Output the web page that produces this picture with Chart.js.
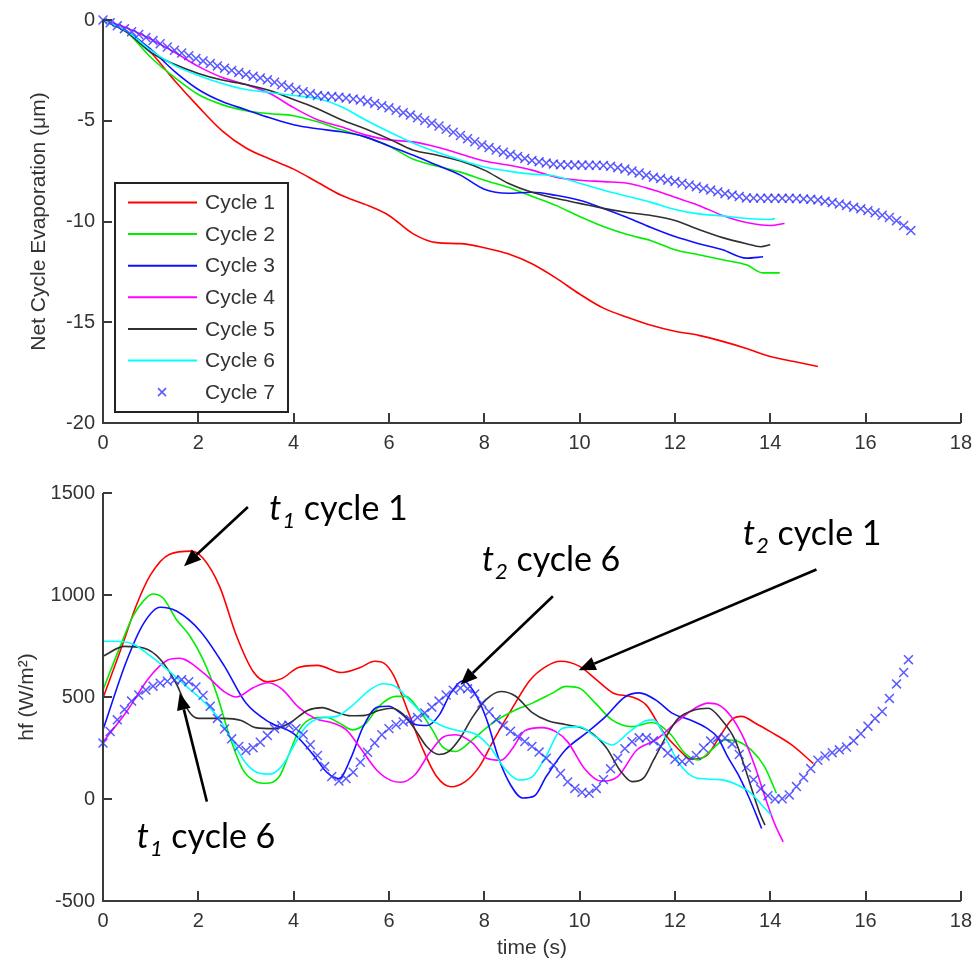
<!DOCTYPE html>
<html>
<head>
<meta charset="utf-8">
<script src="https://cdn.jsdelivr.net/npm/chart.js@4/dist/chart.umd.min.js"></script>
<style>
  body { margin: 0; background: #fff; }
  canvas { position: absolute; left: 0; }
  #evap { top: 0; }
  #flux { top: 470px; }
</style>
</head>
<body>
<canvas id="evap" width="980" height="470"></canvas>
<canvas id="flux" width="980" height="493"></canvas>
<script>
// ---- top panel: net cycle evaporation (um) ----
const cycleNames = ["Cycle 1", "Cycle 2", "Cycle 3", "Cycle 4", "Cycle 5", "Cycle 6", "Cycle 7"];
const cycleColors = ["#ff0000", "#00ee00", "#1010ff", "#ff00ff", "#303030", "#00ffff", "rgba(50,50,255,0.8)"];

const evapT1 = [0,0.5,1,1.5,2,2.5,3,3.5,4,4.5,5,5.5,6,6.5,7,7.5,8,8.5,9,9.5,10,10.5,11,11.5,12,12.5,13,13.5,14,14.5,15];
const evap1 = [0,-0.6,-1.6,-3.0,-4.3,-5.5,-6.35,-6.9,-7.4,-8.05,-8.7,-9.15,-9.7,-10.6,-11.05,-11.1,-11.3,-11.6,-12.1,-12.8,-13.6,-14.3,-14.75,-15.15,-15.45,-15.65,-15.95,-16.3,-16.7,-16.95,-17.2];

const evapT2 = [0,0.5,1,1.5,2,2.5,3,3.5,4,4.5,5,5.5,6,6.5,7,7.5,8,8.5,9,9.5,10,10.5,11,11.5,12,12.5,13,13.5,13.85,14.2];
const evap2 = [0,-0.6,-1.85,-2.85,-3.7,-4.2,-4.5,-4.65,-4.75,-5.05,-5.45,-5.8,-6.25,-6.9,-7.25,-7.55,-7.95,-8.3,-8.75,-9.2,-9.75,-10.25,-10.65,-10.95,-11.4,-11.65,-11.9,-12.15,-12.55,-12.55];

const evapT3 = [0,0.5,1,1.5,2,2.5,3,3.5,4,4.5,5,5.5,6,6.5,7,7.5,8,8.5,9,9.5,10,10.5,11,11.5,12,12.5,13,13.5,13.85];
const evap3 = [0,-0.55,-1.45,-2.55,-3.45,-4.05,-4.45,-4.85,-5.2,-5.4,-5.55,-5.8,-6.25,-6.7,-7.2,-7.7,-8.4,-8.6,-8.55,-8.7,-8.95,-9.35,-9.8,-10.3,-10.75,-11.1,-11.4,-11.82,-11.75];

const evapT4 = [0,0.5,1,1.5,2,2.5,3,3.5,4,4.5,5,5.5,6,6.5,7,7.5,8,8.5,9,9.5,10,10.5,11,11.5,12,12.5,13,13.5,14,14.3];
const evap4 = [0,-0.4,-0.95,-1.6,-2.3,-2.85,-3.2,-3.65,-4.35,-4.95,-5.3,-5.7,-5.95,-6.05,-6.3,-6.65,-7.0,-7.2,-7.45,-7.8,-7.95,-8.02,-8.1,-8.4,-8.8,-9.2,-9.7,-10.05,-10.2,-10.1];

const evapT5 = [0,0.5,1,1.5,2,2.5,3,3.5,4,4.5,5,5.5,6,6.5,7,7.5,8,8.5,9,9.5,10,10.5,11,11.5,12,12.5,13,13.5,13.8,14];
const evap5 = [0,-0.6,-1.6,-2.2,-2.65,-2.98,-3.2,-3.5,-3.95,-4.4,-4.95,-5.4,-5.9,-6.45,-6.7,-7.0,-7.45,-8.1,-8.55,-8.85,-9.1,-9.35,-9.55,-9.7,-9.95,-10.4,-10.8,-11.1,-11.25,-11.15];

const evapT6 = [0,0.5,1,1.5,2,2.5,3,3.5,4,4.5,5,5.5,6,6.5,7,7.5,8,8.5,9,9.5,10,10.5,11,11.5,12,12.5,13,13.5,14,14.1];
const evap6 = [0,-0.55,-1.5,-2.25,-2.75,-3.15,-3.45,-3.6,-3.75,-3.9,-4.3,-4.95,-5.55,-6.1,-6.55,-6.95,-7.3,-7.5,-7.65,-7.75,-8.1,-8.45,-8.75,-9.05,-9.4,-9.62,-9.72,-9.85,-9.9,-9.85];

const evapT7 = [0,0.15,0.3,0.45,0.6,0.75,0.9,1.05,1.2,1.35,1.5,1.65,1.8,1.95,2.1,2.25,2.4,2.55,2.7,2.85,3,3.15,3.3,3.45,3.6,3.75,3.9,4.05,4.2,4.35,4.5,4.65,4.8,4.95,5.1,5.25,5.4,5.55,5.7,5.85,6,6.15,6.3,6.45,6.6,6.75,6.9,7.05,7.2,7.35,7.5,7.65,7.8,7.95,8.1,8.25,8.4,8.55,8.7,8.85,9,9.15,9.3,9.45,9.6,9.75,9.9,10.05,10.2,10.35,10.5,10.65,10.8,10.95,11.1,11.25,11.4,11.55,11.7,11.85,12,12.15,12.3,12.45,12.6,12.75,12.9,13.05,13.2,13.35,13.5,13.65,13.8,13.95,14.1,14.25,14.4,14.55,14.7,14.85,15,15.15,15.3,15.45,15.6,15.75,15.9,16.05,16.2,16.35,16.5,16.65,16.8,16.95];
const evap7 = [0,-0.14,-0.29,-0.43,-0.58,-0.72,-0.87,-1.02,-1.18,-1.34,-1.5,-1.64,-1.77,-1.91,-2.03,-2.16,-2.28,-2.39,-2.5,-2.6,-2.7,-2.79,-2.88,-2.97,-3.09,-3.22,-3.34,-3.46,-3.56,-3.66,-3.75,-3.78,-3.8,-3.83,-3.87,-3.92,-3.97,-4.04,-4.14,-4.25,-4.36,-4.48,-4.6,-4.72,-4.85,-4.99,-5.12,-5.26,-5.42,-5.57,-5.73,-5.89,-6.04,-6.2,-6.33,-6.45,-6.56,-6.67,-6.77,-6.87,-6.97,-7.04,-7.1,-7.15,-7.18,-7.19,-7.2,-7.2,-7.21,-7.21,-7.22,-7.26,-7.33,-7.4,-7.49,-7.59,-7.7,-7.8,-7.87,-7.95,-8.02,-8.1,-8.19,-8.27,-8.36,-8.44,-8.53,-8.62,-8.69,-8.76,-8.83,-8.84,-8.84,-8.85,-8.85,-8.85,-8.85,-8.86,-8.88,-8.9,-8.93,-9.0,-9.06,-9.13,-9.21,-9.29,-9.37,-9.46,-9.57,-9.69,-9.8,-9.96,-10.2,-10.45];

// ---- bottom panel: heat flux hf (W/m2) ----
const fluxT1 = [0,0.4,0.7,1.0,1.4,1.85,2.1,2.45,2.8,3.15,3.45,3.75,4.1,4.5,5.0,5.4,5.7,5.9,6.1,6.4,6.7,7.0,7.3,7.6,7.9,8.2,8.6,8.95,9.3,9.6,10.0,10.35,10.7,11.1,11.4,11.75,12.05,12.35,12.65,12.95,13.2,13.4,13.7,14.0,14.45,14.9];
const flux1 = [495,750,950,1100,1200,1215,1180,1040,800,625,575,590,645,655,620,645,675,665,605,430,250,110,60,85,160,290,450,580,650,675,650,585,520,500,460,330,250,195,210,310,390,405,370,330,265,175];

const fluxT2 = [0,0.36,0.63,0.91,1.05,1.26,1.54,1.82,2.1,2.38,2.66,2.94,3.21,3.42,3.7,3.91,4.12,4.4,4.68,4.96,5.24,5.52,5.79,6.14,6.35,6.63,6.91,7.12,7.4,7.75,8.17,8.59,9.01,9.43,9.71,9.99,10.33,10.68,11.1,11.52,11.9,12.21,12.49,12.77,13.05,13.33,13.6,13.88,14.13];
const flux2 = [535,748,896,986,1005,985,880,800,683,519,306,142,85,77,110,224,339,396,401,372,339,372,454,503,503,437,339,257,233,290,372,429,470,519,552,544,470,388,355,375,320,224,192,241,290,282,241,159,28];

const fluxT3 = [0,0.5,0.85,1.2,1.55,2.05,2.55,3.0,3.5,4.0,4.4,4.7,4.95,5.2,5.45,5.75,6.0,6.25,6.55,6.8,7.05,7.3,7.55,7.8,8.05,8.3,8.55,8.8,9.05,9.3,9.7,10.15,10.55,10.95,11.25,11.6,11.95,12.35,12.65,12.9,13.1,13.35,13.55,13.72,13.82];
const flux3 = [340,680,860,940,920,820,650,470,375,320,220,130,100,200,350,450,455,420,365,360,410,520,580,520,390,200,70,5,15,110,240,325,405,500,520,485,420,385,350,300,210,110,10,-85,-145];

const fluxT4 = [0,0.5,0.95,1.35,1.6,2.1,2.55,2.8,3.15,3.45,3.75,4.1,4.45,4.85,5.1,5.4,5.75,6.05,6.25,6.55,6.85,7.15,7.4,7.75,8.05,8.35,8.6,8.85,9.2,9.5,9.75,10.1,10.45,10.8,11.2,11.6,12.05,12.42,12.7,12.91,13.18,13.46,13.68,13.89,14.09,14.27];
const flux4 = [280,430,590,680,690,620,525,500,545,570,540,450,395,370,340,250,140,90,82,120,225,305,315,275,200,190,250,335,350,330,280,150,88,110,240,290,380,445,470,462,404,290,159,11,-120,-210];

const fluxT5 = [0,0.45,0.85,1.2,1.55,1.8,2.0,2.5,2.9,3.2,3.6,3.9,4.3,4.6,4.9,5.2,5.5,5.8,6.05,6.3,6.55,6.8,7.05,7.25,7.5,7.75,8.05,8.35,8.65,9.0,9.35,9.7,10.15,10.55,10.85,11.1,11.35,11.55,11.8,12.07,12.42,12.7,12.98,13.26,13.46,13.64,13.78,13.89];
const flux5 = [700,748,740,685,560,430,395,395,385,350,345,370,435,448,425,408,410,435,445,415,340,255,218,232,300,400,490,527,505,425,382,365,338,255,140,85,105,190,300,395,437,445,388,290,159,28,-70,-128];

const fluxT6 = [0,0.4,0.65,1.0,1.35,1.75,2.15,2.45,2.75,3.0,3.28,3.5,3.77,4.0,4.26,4.55,4.9,5.25,5.6,5.87,6.15,6.42,6.75,7.1,7.45,7.8,8.1,8.45,8.73,9.01,9.29,9.64,9.99,10.33,10.68,11.05,11.4,11.55,11.8,12.1,12.45,12.95,13.3,13.6,13.82,14.02];
const flux6 = [773,772,757,700,634,552,470,388,270,175,126,122,167,260,355,396,405,462,535,565,550,486,410,360,335,320,260,143,93,110,208,347,355,306,265,330,385,388,300,170,103,95,70,28,-29,-79];

const fluxT7 = [0,0.15,0.3,0.45,0.6,0.75,0.9,1.05,1.2,1.35,1.5,1.65,1.8,1.95,2.1,2.25,2.4,2.55,2.7,2.85,3,3.15,3.3,3.45,3.6,3.75,3.9,4.05,4.2,4.35,4.5,4.65,4.8,4.95,5.1,5.25,5.4,5.55,5.7,5.85,6,6.15,6.3,6.45,6.6,6.75,6.9,7.05,7.2,7.35,7.5,7.65,7.8,7.95,8.1,8.25,8.4,8.55,8.7,8.85,9,9.15,9.3,9.45,9.6,9.75,9.9,10.05,10.2,10.35,10.5,10.65,10.8,10.95,11.1,11.25,11.4,11.55,11.7,11.85,12,12.15,12.3,12.45,12.6,12.75,12.9,13.05,13.2,13.35,13.5,13.65,13.8,13.95,14.1,14.25,14.4,14.55,14.7,14.85,15,15.15,15.3,15.45,15.6,15.75,15.9,16.05,16.2,16.35,16.5,16.65,16.8,16.9];
const flux7 = [274,331,388,439,480,510,534,553,568,577,583,585,575,549,508,455,395,343,295,258,238,251,278,311,345,360,362,345,315,266,213,159,110,88,100,131,180,229,275,315,345,364,378,389,400,422,450,480,510,533,544,540,515,470,428,390,360,332,306,282,258,230,200,166,125,84,52,33,28,52,95,148,200,247,281,300,300,285,258,225,195,184,190,213,250,284,302,299,270,218,155,95,50,16,0,1,20,61,105,149,190,211,227,241,255,285,320,357,395,429,493,564,620,683];

// annotation labels on the bottom panel (data units)
const noteSub = ["1", "1", "2", "2"];
const noteText = [" cycle 1", " cycle 6", " cycle 6", " cycle 1"];
const noteAt = [[3.49, 1366], [0.71, -241], [7.95, 1117], [13.43, 1243]];
const arrowFrom = [[3.04, 1431], [2.18, -13], [9.44, 994], [14.97, 1125]];
const arrowTo = [[1.70, 1141], [1.61, 520], [7.50, 560], [9.98, 631]];

const FONT = '"Liberation Sans", Arial, sans-serif';
const TEXT_COLOR = "#333";
const AXIS_COLOR = "#3a3a3a";

const pts = (t, v) => t.map((x, i) => ({ x: x, y: v[i] }));

const makeSets = (series) => series.map((s, i) => {
  if (i === 6) {
    return {
      label: cycleNames[i], data: pts(s[0], s[1]), showLine: false,
      pointStyle: "crossRot", pointRadius: 6.3, pointBorderWidth: 1.5,
      borderColor: cycleColors[i], backgroundColor: cycleColors[i],
      order: 0, clip: false
    };
  }
  return {
    label: cycleNames[i], data: pts(s[0], s[1]),
    borderColor: cycleColors[i], borderWidth: 1.6, pointRadius: 0,
    cubicInterpolationMode: "monotone", order: 7 - i, clip: false
  };
});

// left/bottom axis lines with inward tick marks
const axisFrame = {
  id: "axisFrame",
  afterDatasetsDraw(chart) {
    const { ctx, chartArea: a, scales: { x, y } } = chart;
    ctx.save();
    ctx.strokeStyle = AXIS_COLOR;
    ctx.lineWidth = 2;
    ctx.beginPath();
    ctx.moveTo(a.left, a.top);
    ctx.lineTo(a.left, a.bottom);
    ctx.lineTo(a.right, a.bottom);
    x.ticks.forEach(t => {
      const px = Math.round(x.getPixelForValue(t.value));
      ctx.moveTo(px, a.bottom);
      ctx.lineTo(px, a.bottom - 10);
    });
    y.ticks.forEach(t => {
      const py = Math.round(y.getPixelForValue(t.value));
      ctx.moveTo(a.left, py);
      ctx.lineTo(a.left + 9, py);
    });
    ctx.stroke();
    ctx.restore();
  }
};

const boxLegend = {
  id: "boxLegend",
  afterDraw(chart) {
    const { ctx, chartArea: a } = chart;
    const left = a.left + 12, top = a.bottom - 240, w = 173, h = 229;
    ctx.save();
    ctx.fillStyle = "#fff";
    ctx.fillRect(left, top, w, h);
    ctx.strokeStyle = "#222";
    ctx.lineWidth = 2;
    ctx.strokeRect(left, top, w, h);
    ctx.font = "21px " + FONT;
    ctx.textBaseline = "middle";
    chart.data.datasets.forEach((ds, i) => {
      const yy = top + 19.5 + i * 31.6;
      if (i === 6) {
        ctx.strokeStyle = ds.borderColor;
        ctx.lineWidth = 1.6;
        const cx = left + 47, r = 4;
        ctx.beginPath();
        ctx.moveTo(cx - r, yy - r); ctx.lineTo(cx + r, yy + r);
        ctx.moveTo(cx - r, yy + r); ctx.lineTo(cx + r, yy - r);
        ctx.stroke();
      } else {
        ctx.strokeStyle = ds.borderColor;
        ctx.lineWidth = 2;
        ctx.beginPath();
        ctx.moveTo(left + 13, yy);
        ctx.lineTo(left + 82, yy);
        ctx.stroke();
      }
      ctx.fillStyle = TEXT_COLOR;
      ctx.fillText(ds.label, left + 90, yy + 1);
    });
    ctx.restore();
  }
};

const notes = {
  id: "notes",
  afterDraw(chart) {
    const { ctx, scales: { x, y } } = chart;
    ctx.save();
    ctx.strokeStyle = "#000";
    ctx.fillStyle = "#000";
    ctx.lineWidth = 2.6;
    arrowFrom.forEach((f, i) => {
      const x0 = x.getPixelForValue(f[0]), y0 = y.getPixelForValue(f[1]);
      const x1 = x.getPixelForValue(arrowTo[i][0]), y1 = y.getPixelForValue(arrowTo[i][1]);
      const ang = Math.atan2(y1 - y0, x1 - x0);
      const len = 17, half = 7;
      const bx = x1 - len * Math.cos(ang), by = y1 - len * Math.sin(ang);
      ctx.beginPath();
      ctx.moveTo(x0, y0);
      ctx.lineTo(bx, by);
      ctx.stroke();
      ctx.beginPath();
      ctx.moveTo(x1, y1);
      ctx.lineTo(bx + half * Math.sin(ang), by - half * Math.cos(ang));
      ctx.lineTo(bx - half * Math.sin(ang), by + half * Math.cos(ang));
      ctx.closePath();
      ctx.fill();
    });
    ctx.textBaseline = "alphabetic";
    noteAt.forEach((p, i) => {
      let px = x.getPixelForValue(p[0]);
      const py = y.getPixelForValue(p[1]);
      ctx.font = "italic 34px Lato, sans-serif";
      ctx.fillText("t", px, py);
      px += ctx.measureText("t").width + 1;
      ctx.font = "italic 22px Lato, sans-serif";
      ctx.fillText(noteSub[i], px, py + 8);
      px += ctx.measureText(noteSub[i]).width;
      ctx.font = "34px Lato, sans-serif";
      ctx.fillText(noteText[i], px, py);
    });
    ctx.restore();
  }
};

const tickFont = { family: FONT, size: 20 };
const titleFont = { family: FONT, size: 21 };

const xAxis = (height, title) => ({
  type: "linear", min: 0, max: 18,
  grid: { display: false, drawTicks: false },
  border: { display: false },
  ticks: { stepSize: 2, font: tickFont, color: TEXT_COLOR, padding: 8, maxRotation: 0, callback: v => String(v) },
  title: title ? { display: true, text: title, font: titleFont, color: TEXT_COLOR, padding: { top: 0, bottom: 2 } } : { display: false },
  afterFit: s => { s.height = height; }
});

const yAxis = (min, max, step, title, pad) => ({
  type: "linear", min: min, max: max,
  grid: { display: false, drawTicks: false },
  border: { display: false },
  ticks: { stepSize: step, font: tickFont, color: TEXT_COLOR, padding: 8, callback: v => String(v) },
  title: { display: true, text: title, font: titleFont, color: TEXT_COLOR, padding: { top: pad, bottom: 0 } },
  afterFit: s => { s.width = 103; }
});

new Chart(document.getElementById("evap"), {
  type: "line",
  data: {
    datasets: makeSets([
      [evapT1, evap1], [evapT2, evap2], [evapT3, evap3], [evapT4, evap4],
      [evapT5, evap5], [evapT6, evap6], [evapT7, evap7]
    ])
  },
  options: {
    responsive: false, animation: false,
    layout: { padding: { top: 17, right: 15, left: 0, bottom: 0 } },
    plugins: { legend: { display: false }, tooltip: { enabled: false } },
    scales: {
      x: xAxis(47, null),
      y: yAxis(-20, 0, 5, "Net Cycle Evaporation (\u03bcm)", 27)
    }
  },
  plugins: [axisFrame, boxLegend]
});

new Chart(document.getElementById("flux"), {
  type: "line",
  data: {
    datasets: makeSets([
      [fluxT1, flux1], [fluxT2, flux2], [fluxT3, flux3], [fluxT4, flux4],
      [fluxT5, flux5], [fluxT6, flux6], [fluxT7, flux7]
    ])
  },
  options: {
    responsive: false, animation: false,
    layout: { padding: { top: 23, right: 15, left: 0, bottom: 0 } },
    plugins: { legend: { display: false }, tooltip: { enabled: false } },
    scales: {
      x: xAxis(62, "time (s)"),
      y: yAxis(-500, 1500, 500, "hf (W/m\u00b2)", 15)
    }
  },
  plugins: [axisFrame, notes]
});
</script>
</body>
</html>
